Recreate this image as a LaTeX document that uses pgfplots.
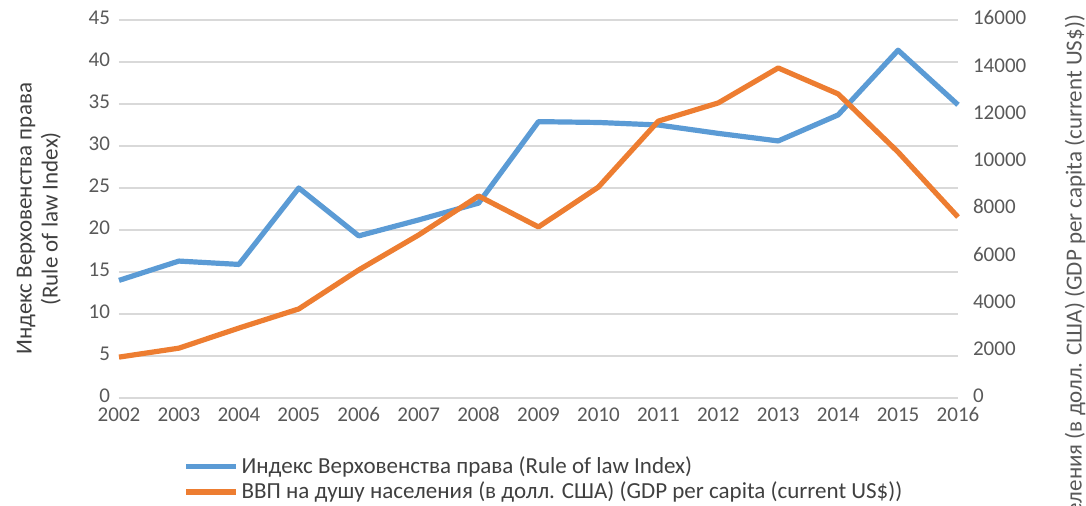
\documentclass[border=0pt]{standalone}
\usepackage{pgfplots}
\pgfplotsset{compat=1.18}
\usepackage{fontspec}
\setmainfont{Carlito}
\definecolor{cblue}{HTML}{5B9BD5}
\definecolor{corange}{HTML}{ED7D31}
\definecolor{cgrid}{HTML}{D9D9D9}
\definecolor{ctick}{HTML}{595959}
\definecolor{clabel}{HTML}{404040}
\begin{document}
\begin{tikzpicture}
\pgfplotsset{
  base/.style={
    scale only axis, width=419.5pt, height=189pt,
    xmin=2002, xmax=2016,
    axis line style={draw=none},
    tick style={draw=none},
    /pgf/number format/assume math mode=true,
    /pgf/number format/1000 sep={},
    scaled y ticks=false,
    typeset ticklabels with strut,
    tick label style={font=\fontsize{10.5}{12}\selectfont, text=ctick},
    clip=false,
  }
}
\begin{axis}[base, name=ax,
  ymin=0, ymax=45, ytick={0,5,...,45},
  xtick={2002,2003,...,2016},
  ymajorgrids, grid style={cgrid, line width=0.6pt},
  yticklabel style={xshift=-1pt},
  xticklabel style={yshift=0pt},
  ylabel={Индекс Верховенства права\\(Rule of law Index)},
  ylabel style={at={(axis description cs:-0.0954,0.474)}, anchor=center, align=center,
    font=\fontsize{11.5}{13}\selectfont, text=clabel},
]
\addplot[cblue, line width=2.6pt, line join=round] coordinates {
(2002,14.0) (2003,16.3) (2004,15.9) (2005,25.0) (2006,19.3) (2007,21.2) (2008,23.2)
(2009,32.9) (2010,32.8) (2011,32.5) (2012,31.5) (2013,30.6) (2014,33.7) (2015,41.4) (2016,34.9)
};
\end{axis}
\begin{axis}[base,
  axis y line*=right, axis x line=none,
  ymin=0, ymax=16000, ytick={0,2000,...,16000},
  yticklabel style={xshift=4pt, anchor=west},
  ylabel={ВВП на душу населения (в долл. США) (GDP per capita (current US\$))},
  ylabel style={at={(axis description cs:1.1395,1.032)}, anchor=east,
    font=\fontsize{11.5}{13}\selectfont, text=ctick},
  legend cell align=left,
  legend style={at={(axis description cs:0.0763,-0.145)}, anchor=north west, draw=none, fill=none,
    inner sep=0pt, row sep=0pt,
    font=\fontsize{11.5}{13}\selectfont, text=clabel,
    nodes={inner sep=1.5pt}},
  legend image code/.code={\draw[#1, line width=2.6pt] (0pt,0pt) -- (25pt,0pt);},
]
\addlegendimage{cblue}
\addlegendentry{Индекс Верховенства права (Rule of law Index)}
\addplot[corange, line width=2.6pt, line join=round] coordinates {
(2002,1730) (2003,2110) (2004,2960) (2005,3770) (2006,5420) (2007,6900) (2008,8550)
(2009,7240) (2010,8930) (2011,11720) (2012,12490) (2013,13970) (2014,12870) (2015,10410) (2016,7660)
};
\addlegendentry{ВВП на душу населения (в долл. США) (GDP per capita (current US\$))}
\end{axis}
\pgfresetboundingbox
\path[use as bounding box] ([xshift=-59.5pt,yshift=-54pt]ax.south west) rectangle ([xshift=64pt,yshift=10pt]ax.north east);
\end{tikzpicture}
\end{document}
